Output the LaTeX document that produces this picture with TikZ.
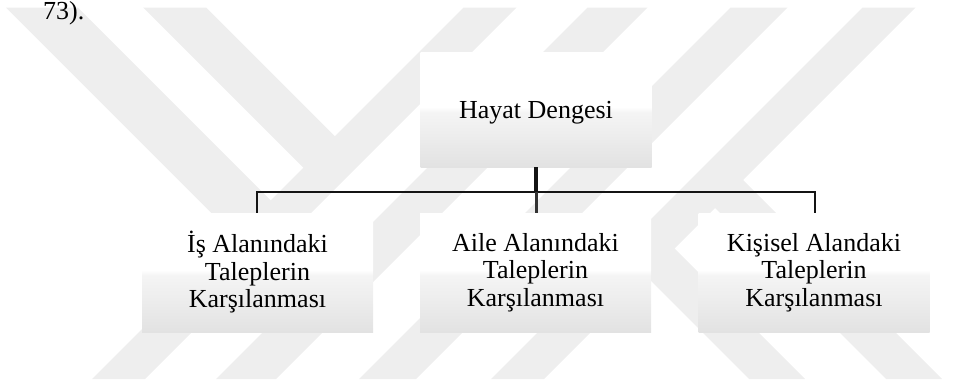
\documentclass[tikz,border=0pt]{standalone}
\usepackage{fontspec}
\setmainfont{Liberation Serif}
\definecolor{wmark}{RGB}{238,238,238}
\definecolor{boxbot}{RGB}{226,226,226}
\definecolor{linecol}{RGB}{20,20,20}
\pgfdeclareverticalshading{boxshade}{100bp}{color(0bp)=(boxbot); color(25bp)=(boxbot); color(49bp)=(white!96!black); color(51bp)=(white); color(100bp)=(white)}
\tikzset{
  wm/.style={fill=wmark, draw=none},
  boxnode/.style={rectangle, draw=none, shading=boxshade, minimum width=231pt,
    align=center, inner sep=0pt, font=\fontsize{26pt}{27.5pt}\selectfont},
  trunk/.style={draw=linecol, line width=4.5pt},
  conn/.style={draw=linecol, line width=2.6pt, line join=miter},
  midconn/.style={draw=black!80, line width=3pt},
  plain/.style={inner sep=0pt, font=\fontsize{26pt}{27.5pt}\selectfont}
}
\begin{document}
\begin{tikzpicture}[x=1pt, y=-1pt]
\useasboundingbox (0,0) rectangle (978,383);
% watermark
\fill[wm] (463.5,7.5) -- (516.5,7.5) -- (145,379) -- (92,379) -- cycle;
\fill[wm] (587.5,7.5) -- (647.5,7.5) -- (276,379) -- (216,379) -- cycle;
\fill[wm] (730.5,7.5) -- (787.5,7.5) -- (416,379) -- (359,379) -- cycle;
\fill[wm] (862.5,7.5) -- (915.5,7.5) -- (544,379) -- (491,379) -- cycle;
\fill[wm] (6,7.5) -- (78,7.5) -- (280.25,209.75) -- (244.25,245.75) -- cycle;
\fill[wm] (143,7.5) -- (206,7.5) -- (344.25,145.75) -- (312.75,177.25) -- cycle;
\fill[wm] (749,379) -- (805,379) -- (663,237) -- (635,265) -- cycle;
\fill[wm] (886,379) -- (942,379) -- (731.5,168.5) -- (703.5,196.5) -- cycle;
% text at top left
\node[plain, anchor=base west] (num) at (43,19) {73).};
% boxes
\node[boxnode, minimum height=115pt, text height=22pt, text depth=5pt] (top) at (536,109.5) {Hayat Dengesi};
\node[boxnode, minimum height=119pt] (b1) at (257.5,272.5) {İş Alanındaki\\Taleplerin\\Karşılanması};
\node[boxnode, minimum height=119pt] (b2) at (535.5,272.5) {Aile Alanındaki\\Taleplerin\\Karşılanması};
\node[boxnode, minimum height=119pt] (b3) at (814,272.5) {Kişisel Alandaki\\Taleplerin\\Karşılanması};
% connectors
\coordinate (hj) at (536,192);
\draw[conn] ([xshift=-0.5pt]b1.north) |- (hj) -| ([xshift=1pt]b3.north);
\draw[trunk] (top.south) -- (hj);
\draw[midconn] (hj) -- (b2.north -| hj);
\end{tikzpicture}
\end{document}
